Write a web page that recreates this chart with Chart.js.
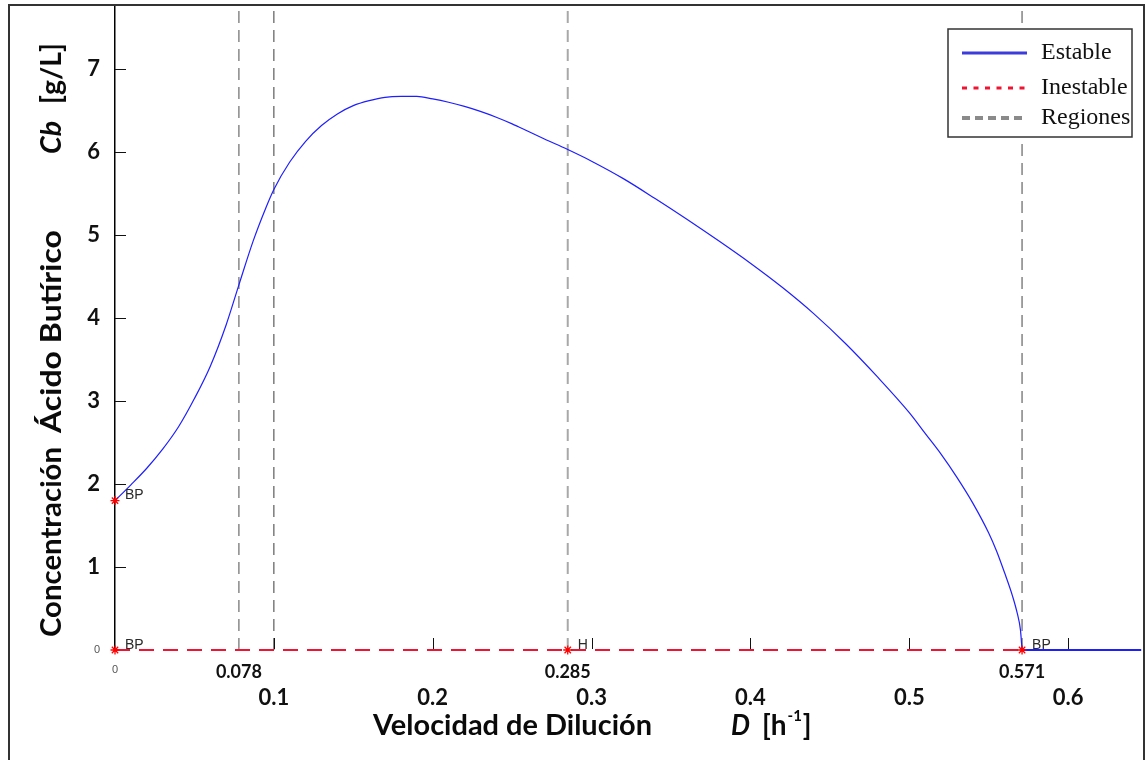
<!DOCTYPE html>
<html>
<head>
<meta charset="utf-8">
<script src="https://cdn.jsdelivr.net/npm/chart.js@4.4.0/dist/chart.umd.min.js"></script>
<style>
html,body{margin:0;padding:0;background:#fff;}
#wrap{width:1147px;height:760px;position:relative;}
</style>
</head>
<body>
<div id="wrap"><canvas id="c" width="1147" height="760"></canvas></div>
<script>
// ---------- data ----------
const estableD  = [0, 0.01, 0.02, 0.03, 0.04, 0.05, 0.06, 0.07, 0.078, 0.087, 0.095, 0.10, 0.11, 0.12, 0.13, 0.14, 0.15, 0.16, 0.17, 0.18, 0.19, 0.20, 0.21, 0.22, 0.23, 0.24, 0.25, 0.26, 0.27, 0.285, 0.30, 0.32, 0.34, 0.36, 0.38, 0.40, 0.42, 0.44, 0.46, 0.48, 0.50, 0.51, 0.52, 0.53, 0.54, 0.55, 0.555, 0.56, 0.565, 0.568, 0.570, 0.571];
const estableCb = [1.80, 1.99, 2.19, 2.42, 2.69, 3.03, 3.42, 3.92, 4.40, 4.93, 5.33, 5.55, 5.88, 6.13, 6.32, 6.46, 6.56, 6.62, 6.66, 6.67, 6.67, 6.64, 6.60, 6.55, 6.49, 6.42, 6.34, 6.25, 6.16, 6.03, 5.89, 5.68, 5.44, 5.19, 4.93, 4.66, 4.37, 4.05, 3.69, 3.29, 2.86, 2.61, 2.36, 2.08, 1.77, 1.41, 1.19, 0.93, 0.65, 0.44, 0.24, 0];
const lavadoD  = [0.571, 0.646];
const lavadoCb = [0, 0];
const inestableD  = [0, 0.571];
const inestableCb = [0, 0];
const regionesD = [0.078, 0.1, 0.285, 0.571];
const bifD  = [0, 0, 0.285, 0.571];
const bifCb = [1.8, 0, 0, 0];
const bifLabels = ['BP', 'BP', 'H', 'BP'];
const xTicks = [0, 0.078, 0.1, 0.2, 0.285, 0.3, 0.4, 0.5, 0.571, 0.6];
const xTicksEspeciales = [0.078, 0.285, 0.571];
const xTickMarks = [0.1, 0.2, 0.3, 0.4, 0.5, 0.6];
const yTicks = [0, 1, 2, 3, 4, 5, 6, 7];
const X_MAX = 0.646;
const Y_MAX = 7.76;

// ---------- styles ----------
const BLUE = 'rgb(30,30,255)';
const RED = 'rgb(240,20,50)';
const regionStyles = [
  {color: '#6a6a6a', width: 1.2},
  {color: '#5a5a5a', width: 1.2},
  {color: '#a8a8a8', width: 2},
  {color: '#7a7a7a', width: 1.4}
];

const toXY = (xs, ys) => xs.map((x, i) => ({x: x, y: ys[i]}));

const datasets = [];
datasets.push({
  label: 'Bifurcaciones',
  data: toXY(bifD, bifCb),
  showLine: false,
  clip: false,
  pointStyle: 'star',
  pointRadius: 4.5,
  pointBorderColor: '#ff0000',
  pointBorderWidth: 1.3,
  pointBackgroundColor: '#ff0000'
});
datasets.push({
  label: 'Estable',
  data: toXY(estableD, estableCb),
  borderColor: BLUE,
  borderWidth: 1.2,
  clip: false,
  cubicInterpolationMode: 'monotone',
  pointRadius: 0
});
datasets.push({
  label: 'Estable (lavado)',
  data: toXY(lavadoD, lavadoCb),
  borderColor: BLUE,
  borderWidth: 2,
  clip: false,
  pointRadius: 0
});
datasets.push({
  label: 'Inestable',
  data: toXY(inestableD, inestableCb),
  borderColor: RED,
  borderWidth: 1.8,
  borderDash: [15, 9],
  clip: false,
  pointRadius: 0
});
regionesD.forEach((d, i) => {
  datasets.push({
    label: 'Regiones',
    data: [{x: d, y: 0}, {x: d, y: Y_MAX}],
    borderColor: regionStyles[i].color,
    borderWidth: regionStyles[i].width,
    borderDash: [12, 7],
    pointRadius: 0,
    fill: false
  });
});

function fitText(ctx, text, x, y, font, target) {
  ctx.font = font;
  const w = ctx.measureText(text).width;
  ctx.save();
  ctx.translate(x, y);
  ctx.scale(target / w, 1);
  ctx.fillText(text, 0, 0);
  ctx.restore();
}

const decor = {
  id: 'decor',
  afterDraw(chart) {
    const ctx = chart.ctx;
    const xs = chart.scales.x, ys = chart.scales.y;
    const area = chart.chartArea;
    ctx.save();
    // tick marks (inside)
    ctx.strokeStyle = '#111';
    ctx.lineWidth = 1;
    yTicks.forEach(v => {
      if (v === 0) return;
      const py = Math.round(ys.getPixelForValue(v)) + 0.5;
      ctx.beginPath(); ctx.moveTo(area.left, py); ctx.lineTo(area.left + 11, py); ctx.stroke();
    });
    xTickMarks.forEach(v => {
      const px = Math.round(xs.getPixelForValue(v)) + 0.5;
      ctx.beginPath(); ctx.moveTo(px, area.bottom - 1); ctx.lineTo(px, area.bottom - 12); ctx.stroke();
    });
    // bifurcation labels
    ctx.font = '14px "Liberation Sans", Arial, sans-serif';
    ctx.fillStyle = '#2a2a2a';
    ctx.textBaseline = 'alphabetic';
    ctx.textAlign = 'left';
    bifLabels.forEach((t, i) => {
      const px = xs.getPixelForValue(bifD[i]);
      const py = ys.getPixelForValue(bifCb[i]);
      ctx.fillText(t, px + 10, py - 1.5);
    });
    // legend
    const L = {x: 948, y: 29, w: 184, h: 108};
    ctx.fillStyle = '#fff';
    ctx.fillRect(L.x, L.y, L.w, L.h);
    ctx.strokeStyle = '#333';
    ctx.lineWidth = 1.5;
    ctx.strokeRect(L.x, L.y, L.w, L.h);
    const items = [
      {t: 'Estable', color: 'rgb(60,60,220)', dash: [], w: 3, y: 53},
      {t: 'Inestable', color: RED, dash: [5, 6.5], w: 3, y: 88},
      {t: 'Regiones', color: '#8a8a8a', dash: [8, 5], w: 4, y: 118}
    ];
    items.forEach(it => {
      ctx.beginPath();
      ctx.setLineDash(it.dash);
      ctx.strokeStyle = it.color;
      ctx.lineWidth = it.w;
      ctx.moveTo(962, it.y); ctx.lineTo(1027, it.y);
      ctx.stroke();
      ctx.setLineDash([]);
      ctx.fillStyle = '#111';
      ctx.font = '24px "Liberation Serif", "Times New Roman", serif';
      ctx.textBaseline = 'middle';
      ctx.fillText(it.t, 1041, it.y);
    });
    // x axis title
    ctx.fillStyle = '#0a0a0a';
    ctx.textBaseline = 'alphabetic';
    const F = 'bold 28px Lato, sans-serif';
    const FI = 'italic bold 28px Lato, sans-serif';
    fitText(ctx, 'Velocidad de Dilución', 373, 735, F, 279);
    fitText(ctx, 'D', 731, 735, FI, 19);
    ctx.font = F;
    let xx = 762;
    ctx.fillText('[h', xx, 735); xx += ctx.measureText('[h').width;
    ctx.font = 'bold 15px Lato, sans-serif';
    ctx.fillText('-1', xx + 1, 721); xx += ctx.measureText('-1').width + 2;
    ctx.font = F;
    ctx.fillText(']', xx, 735);
    // y axis title (rotated)
    ctx.save();
    ctx.translate(61, 0);
    ctx.rotate(-Math.PI / 2);
    fitText(ctx, 'Concentración', -637, 0, F, 190);
    fitText(ctx, 'Ácido Butírico', -433, 0, F, 203);
    fitText(ctx, 'Cb', -154, 0, FI, 33);
    fitText(ctx, '[g/L]', -104, 0, F, 61);
    ctx.restore();
    // outer frame
    ctx.strokeStyle = '#333';
    ctx.lineWidth = 2;
    ctx.strokeRect(9, 5, 1135, 800);
    ctx.restore();
  }
};

const boldTick = (size, lh) => ({family: 'Lato', weight: 'bold', size: size, lineHeight: lh});

new Chart(document.getElementById('c'), {
  type: 'line',
  data: {datasets: datasets},
  plugins: [decor],
  options: {
    responsive: false,
    animation: false,
    devicePixelRatio: 1,
    layout: {padding: {left: 0, top: 6, right: 4, bottom: 0}},
    plugins: {legend: {display: false}, tooltip: {enabled: false}},
    scales: {
      x: {
        type: 'linear',
        min: 0, max: X_MAX,
        border: {display: false},
        grid: {display: false},
        afterBuildTicks: s => { s.ticks = xTicks.map(v => ({value: v})); },
        afterFit: s => { s.height = 110; s.paddingLeft = 0; s.paddingRight = 0; },
        ticks: {
          autoSkip: false, maxRotation: 0, minRotation: 0, padding: 2,
          callback: v => {
            if (v === 0) return '0';
            if (xTicksEspeciales.includes(v)) return v.toFixed(3);
            return ['', v.toFixed(1)];
          },
          font: c => {
            const v = c.tick ? c.tick.value : 1;
            if (v === 0) return {family: 'Liberation Sans', size: 11, lineHeight: '20px'};
            if (xTicksEspeciales.includes(v)) return boldTick(18, '24px');
            return boldTick(22, '25.33px');
          },
          color: c => (c.tick && c.tick.value === 0) ? '#555' : '#111'
        }
      },
      y: {
        type: 'linear',
        min: 0, max: Y_MAX,
        border: {display: true, color: '#000', width: 1.5},
        grid: {display: false},
        afterBuildTicks: s => { s.ticks = yTicks.map(v => ({value: v})); },
        afterFit: s => { s.width = 115; s.paddingTop = 0; s.paddingBottom = 0; },
        ticks: {
          autoSkip: false, padding: 7,
          callback: v => String(v),
          font: c => {
            const v = c.tick ? c.tick.value : 1;
            if (v === 0) return {family: 'Liberation Sans', size: 11};
            return boldTick(22, 1.2);
          },
          color: c => (c.tick && c.tick.value === 0) ? '#555' : '#111'
        }
      }
    }
  }
});
</script>
</body>
</html>
